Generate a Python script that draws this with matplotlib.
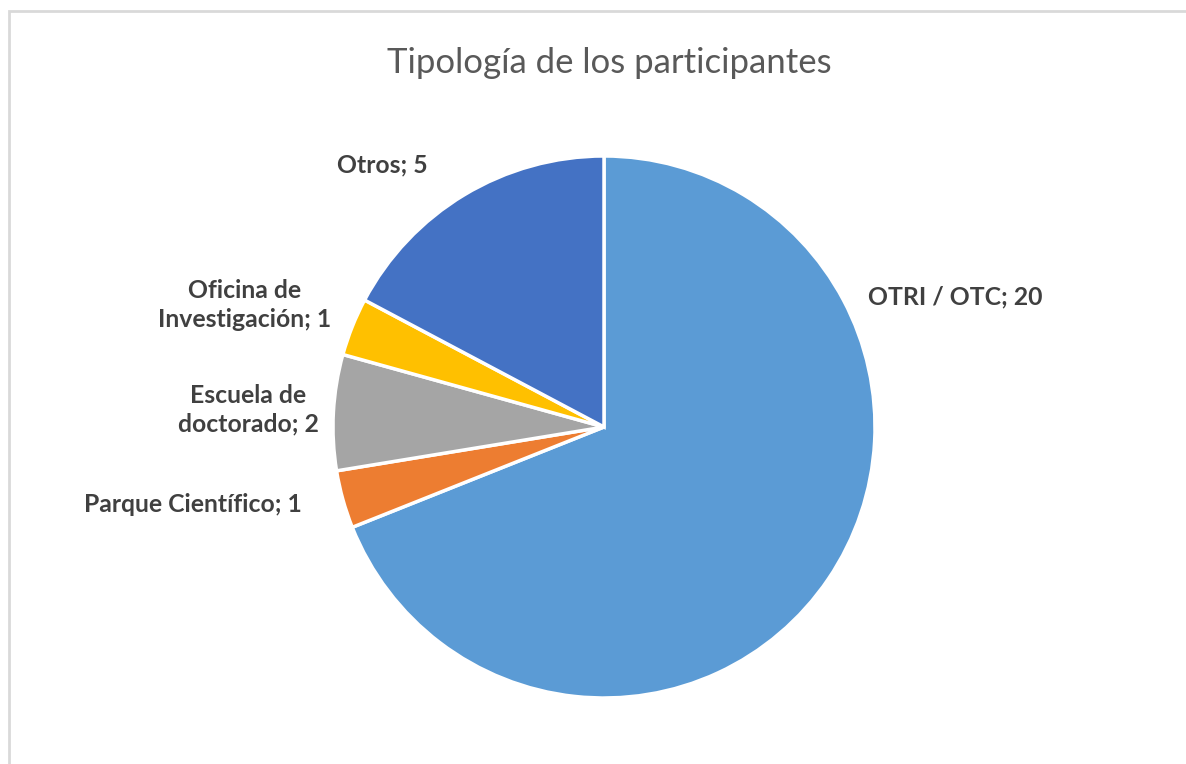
import matplotlib
matplotlib.use("Agg")
import matplotlib.pyplot as plt
from matplotlib.patches import Rectangle

categories = ["OTRI / OTC", "Parque Científico", "Escuela de\ndoctorado", "Oficina de\nInvestigación", "Otros"]
values = [20, 1, 2, 1, 5]
colors = ["#5B9BD5", "#ED7D31", "#A5A5A5", "#FFC000", "#4472C4"]
title = "Tipología de los participantes"

W, H = 1186, 764
fig = plt.figure(figsize=(W / 100, H / 100), dpi=100)
ax = fig.add_axes([0, 0, 1, 1])
ax.set_xlim(0, W)
ax.set_ylim(0, H)
ax.set_aspect("equal")
ax.axis("off")

# chart border
ax.add_patch(Rectangle((9, -10), W + 20, H - 11 + 10, fill=False,
                       edgecolor="#d9d9d9", linewidth=2))

cx, cy, r = 604, H - 427, 271
ax.pie(values, colors=colors, startangle=90, counterclock=False,
       center=(cx, cy), radius=r, frame=True,
       wedgeprops=dict(edgecolor="white", linewidth=2.5))
ax.set_xlim(0, W)
ax.set_ylim(0, H)
ax.axis("off")

label_pos = [(955, 297), (193, 504), (248, 410), (245, 305), (382, 165)]
for cat, v, (x, y) in zip(categories, values, label_pos):
    ax.text(x, H - y, f"{cat}; {v}", ha="center", va="center", fontsize=17.8,
            fontweight="bold", color="#404040", family="Lato", linespacing=1.3)

ax.text(609, H - 63, title, ha="center", va="center", fontsize=25,
        color="#595959", family="Lato")

fig.savefig("out.png", dpi=100)
